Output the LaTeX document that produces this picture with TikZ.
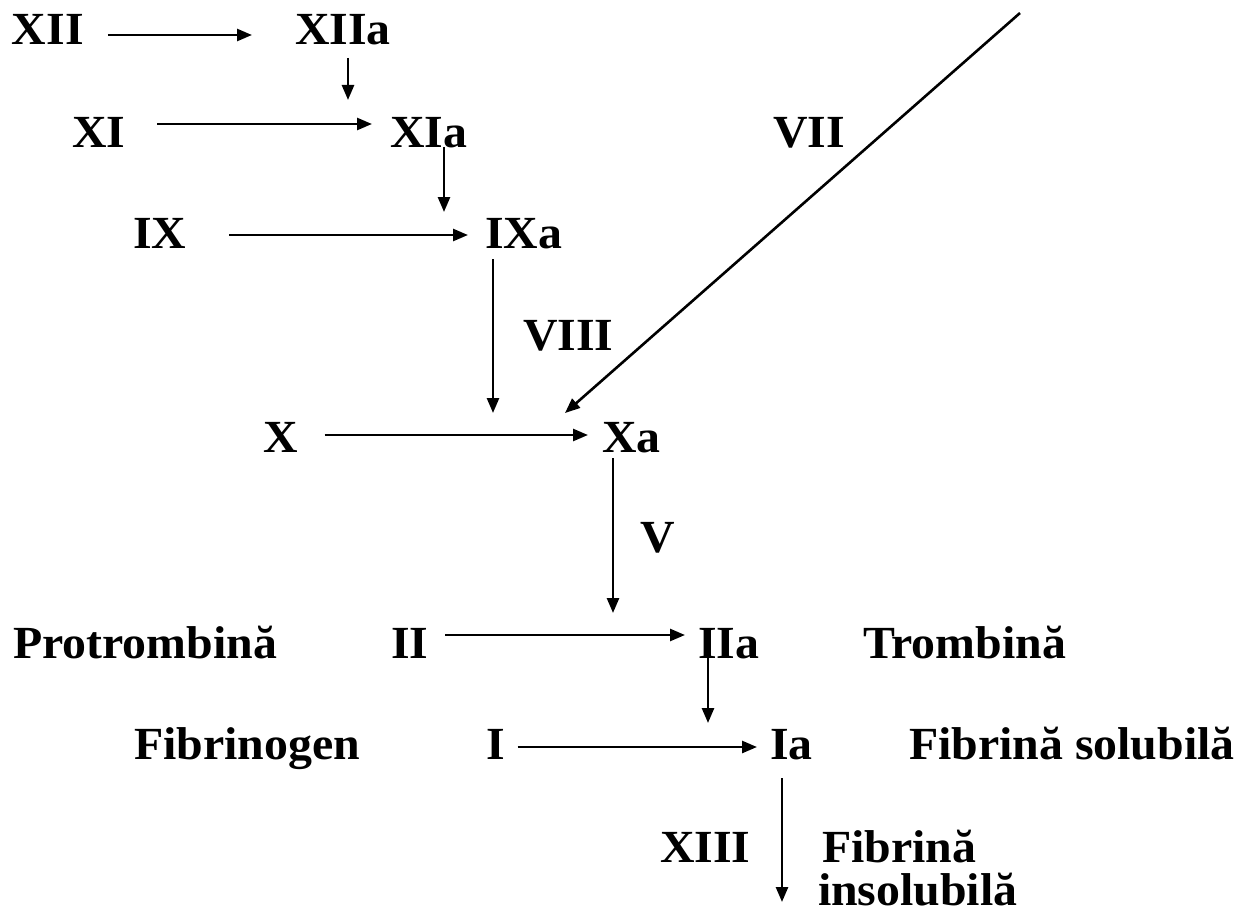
\documentclass[tikz,border=0pt]{standalone}
\usepackage{fontspec}
\setmainfont{Liberation Serif}
\usetikzlibrary{arrows.meta}
\newcommand{\sx}[1]{\scalebox{1.04}[1]{#1}}
\tikzset{
  lab/.style={inner sep=0pt, outer sep=0pt, anchor=base west, font=\bfseries\fontsize{46}{46}\selectfont},
  arr/.style={line width=2.6pt, -{Triangle[length=15pt,width=12pt]}},
}
\begin{document}
\begin{tikzpicture}[x=1pt,y=-1pt]
\useasboundingbox (0,0) rectangle (1242,915);
% nodes
\node[lab] (XII)  at (12,45)  {\sx{XII}};
\node[lab] (XIIa) at (295,45) {\sx{XIIa}};
\node[lab] (XI)   at (72,147) {\sx{XI}};
\node[lab] (XIa)  at (390,147) {\sx{XIa}};
\node[lab] (IX)   at (133,248) {\sx{IX}};
\node[lab] (IXa)  at (485,248) {\sx{IXa}};
\node[lab] (VIII) at (523,350) {\sx{VIII}};
\node[lab] (VII)  at (773,147) {\sx{VII}};
\node[lab] (X)    at (263,452) {\sx{X}};
\node[lab] (Xa)   at (602,452) {\sx{Xa}};
\node[lab] (V)    at (640,552) {\sx{V}};
\node[lab] (Pro)  at (13,658) {\sx{Protrombină}};
\node[lab] (II)   at (391,658) {\sx{II}};
\node[lab] (IIa)  at (698,658) {\sx{IIa}};
\node[lab] (Tro)  at (863,658) {\sx{Trombină}};
\node[lab] (Fgen) at (134,759) {\sx{Fibrinogen}};
\node[lab] (I)    at (486,759) {\sx{I}};
\node[lab] (Ia)   at (770,759) {\sx{Ia}};
\node[lab] (Fsol) at (909,759) {\sx{Fibrină solubilă}};
\node[lab] (XIII) at (660,862) {\sx{XIII}};
\node[lab] (Fins) at (822,862) {\sx{Fibrină}};
\node[lab] (Ins)  at (818,905) {\sx{insolubilă}};
% free ends
\coordinate (e1) at (348,100);
\coordinate (e2) at (444,212);
\coordinate (e3) at (493,413);
\coordinate (e7s) at (1020,13);
\coordinate (e7) at (565,413);
\coordinate (e5) at (613,613);
\coordinate (e6) at (708,723);
\coordinate (e13) at (782,902);
% horizontal arrows
\draw[arr] ([xshift=24pt,yshift=10pt]XII.base east) -- ([xshift=-43pt,yshift=10pt]XIIa.base west);
\draw[arr] ([xshift=32pt,yshift=23pt]XI.base east) -- ([xshift=-18pt,yshift=23pt]XIa.base west);
\draw[arr] ([xshift=43pt,yshift=13pt]IX.base east) -- ([xshift=-17pt,yshift=13pt]IXa.base west);
\draw[arr] ([xshift=27pt,yshift=17pt]X.base east) -- ([xshift=-14pt,yshift=17pt]Xa.base west);
\draw[arr] ([xshift=17pt,yshift=23pt]II.base east) -- ([xshift=-13pt,yshift=23pt]IIa.base west);
\draw[arr] ([xshift=13pt,yshift=12pt]I.base east) -- ([xshift=-13pt,yshift=12pt]Ia.base west);
% vertical arrows
\draw[arr, shorten <=13pt] (XIIa.base -| e1) -- (e1);
\draw[arr] (XIa.base -| e2) -- (e2);
\draw[arr, shorten <=11pt] (IXa.base -| e3) -- (e3);
\draw[arr] (e7s) -- (e7);
\draw[arr, shorten <=6pt] (Xa.base -| e5) -- (e5);
\draw[arr] (IIa.base -| e6) -- (e6);
\draw[arr, shorten <=19pt] (Ia.base -| e13) -- (e13);
\end{tikzpicture}
\end{document}
